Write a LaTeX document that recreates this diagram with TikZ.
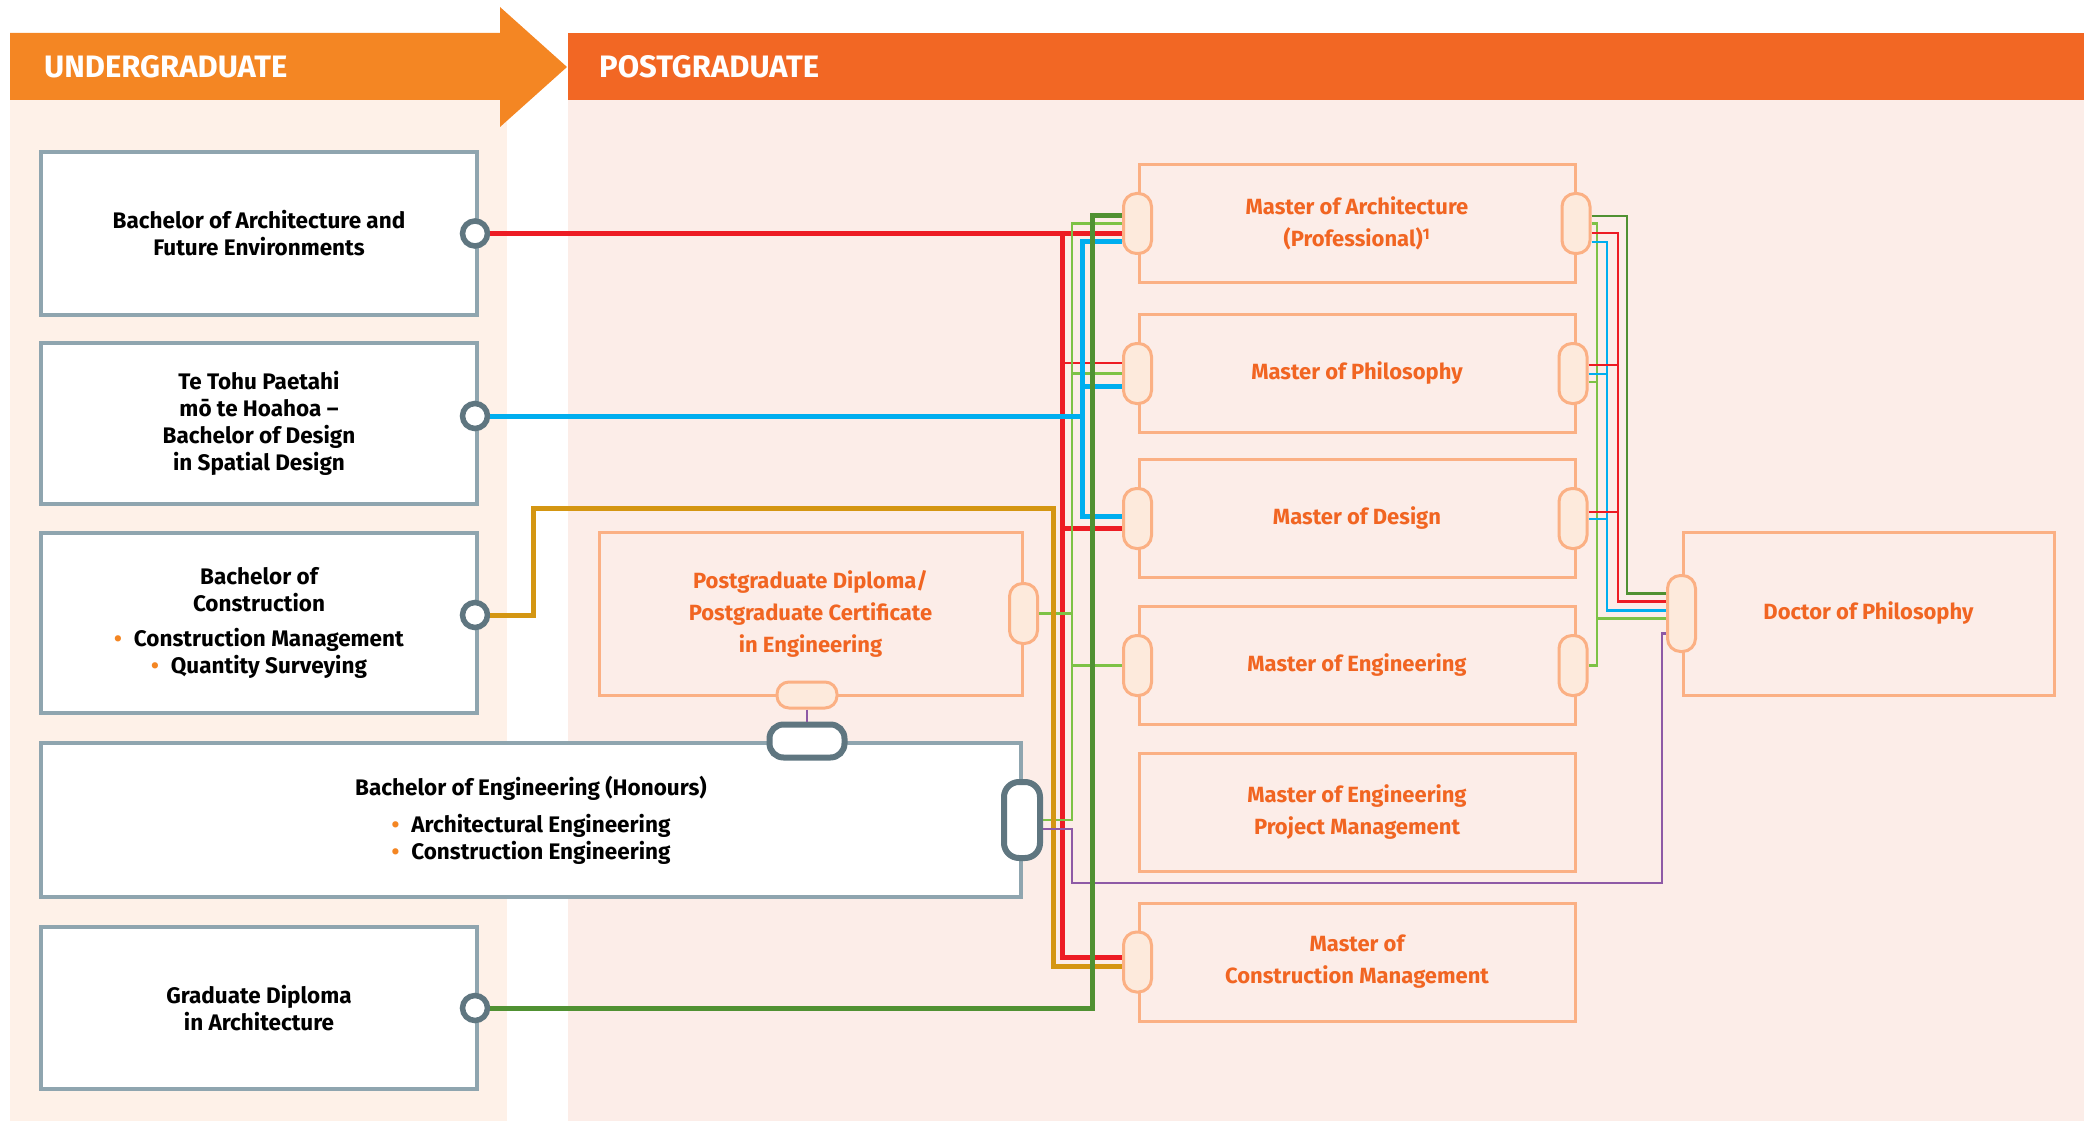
\documentclass[tikz,border=0pt]{standalone}
\usepackage{fontspec}
\setmainfont{Fira Sans}
\usetikzlibrary{positioning}

\definecolor{ugorange}{RGB}{244,134,35}
\definecolor{pgorange}{RGB}{242,103,36}
\definecolor{ugbg}{RGB}{254,241,232}
\definecolor{pgbg}{RGB}{252,237,232}
\definecolor{ugline}{RGB}{143,165,175}
\definecolor{portline}{RGB}{95,118,128}
\definecolor{pgline}{RGB}{251,176,132}
\definecolor{pillfill}{RGB}{253,234,220}
\definecolor{pgtext}{RGB}{241,101,34}
\definecolor{lnred}{RGB}{237,28,36}
\definecolor{lnblue}{RGB}{0,174,239}
\definecolor{lngold}{RGB}{212,150,18}
\definecolor{lndkgreen}{RGB}{80,145,50}
\definecolor{lnltgreen}{RGB}{125,194,70}
\definecolor{lnpurple}{RGB}{142,90,166}

\newcommand\ugfont{\bfseries\fontsize{22.5}{27}\selectfont}
\newcommand\pgtfont{\bfseries\fontsize{22}{32}\selectfont}
\newcommand\ubullet{\textcolor{ugorange}{\textbullet}\hspace{12pt}}

\tikzset{
  hdr/.style={anchor=west, text=white, font=\bfseries\fontsize{31}{34}\selectfont, inner sep=0},
  ugbox/.style={draw=ugline, line width=4, fill=white, minimum width=436, align=center, font=\ugfont},
  pgbox/.style={draw=pgline, line width=3, minimum width=436, minimum height=118, align=center, text=pgtext, font=\pgtfont},
  pill/.style={draw=pgline, line width=3, fill=pillfill, minimum width=28, minimum height=60, rounded corners=13, inner sep=0},
  bepill/.style={draw=portline, line width=6, fill=white, inner sep=0},
  port/.style={circle, draw=portline, line width=5.5, fill=white, minimum size=25, inner sep=0},
  rdthick/.style={draw=lnred, line width=5},
  rdthin/.style={draw=lnred, line width=2.5},
  buthick/.style={draw=lnblue, line width=5},
  buthin/.style={draw=lnblue, line width=2.5},
  gdthick/.style={draw=lngold, line width=5},
  dgthick/.style={draw=lndkgreen, line width=5},
  dgthin/.style={draw=lndkgreen, line width=2.5},
  lgthin/.style={draw=lnltgreen, line width=2.5},
  puthin/.style={draw=lnpurple, line width=2.5}
}

\begin{document}
\begin{tikzpicture}[x=1pt, y=-1pt]
\useasboundingbox (0,0) rectangle (2091,1123);

% backgrounds and headers
\fill[ugbg] (10,100) rectangle (507,1121);
\fill[pgbg] (568,100) rectangle (2084,1121);
\fill[ugorange] (10,33) -- (500,33) -- (500,7) -- (567,67) -- (500,127) -- (500,100) -- (10,100) -- cycle;
\fill[pgorange] (568,33) rectangle (2084,100);
\node[hdr] (ughead) at (44,67) {UNDERGRADUATE};
\node[hdr] (pghead) at (599,67) {POSTGRADUATE};

% undergraduate
\node[ugbox, minimum height=163] (bafe) at (259,233.5) {Bachelor of Architecture and\\Future Environments};
\node[ugbox, minimum height=161] (tohu) at (259,423.5) {Te Tohu Paetahi\\mō te Hoahoa –\\Bachelor of Design\\in Spatial Design};
\node[ugbox, minimum height=180] (con) at (259,623) {Bachelor of\\Construction\\[8pt]\ubullet Construction Management\\\ubullet Quantity Surveying};
\node[ugbox, minimum width=980, minimum height=154] (be) at (531,820) {Bachelor of Engineering (Honours)\\[10pt]\ubullet Architectural Engineering\\\ubullet Construction Engineering};
\node[ugbox, minimum height=162] (gdip) at (259,1008) {Graduate Diploma\\in Architecture};

% postgraduate
\node[pgbox, minimum width=423, minimum height=163] (pgd) at (810.5,613.5) {Postgraduate Diploma/\\Postgraduate Certificate\\in Engineering};
\node[pgbox] (march) at (1357,223.5) {Master of Architecture\\(Professional)\textsuperscript{1}};
\node[pgbox] (mphil) at (1357,373.5) {Master of Philosophy};
\node[pgbox] (mdes) at (1357,518.5) {Master of Design};
\node[pgbox] (meng) at (1357,665.5) {Master of Engineering};
\node[pgbox] (mepm) at (1357,812) {Master of Engineering\\Project Management};
\node[pgbox] (mcm) at (1357,962) {Master of\\Construction Management};
\node[pgbox, minimum width=371, minimum height=163] (phd) at (1868.5,613.5) {Doctor of Philosophy};

% ports
\node[port] (bafeP) at (475,233.5) {};
\node[port] (tohuP) at (475,416) {};
\node[port] (conP) at (475,615) {};
\node[port] (gdipP) at (475,1008) {};
\node[bepill, minimum width=36, minimum height=76, rounded corners=15] (beR) at (1022,820) {};
\node[bepill, minimum width=75, minimum height=33, rounded corners=14] (beT) at (807,741) {};
\node[pill] (marchL) at (march.west) {};
\node[pill] (marchR) at (1576,223.5) {};
\node[pill] (mphilL) at (mphil.west) {};
\node[pill] (mphilR) at (1573,373.5) {};
\node[pill] (mdesL) at (mdes.west) {};
\node[pill] (mdesR) at (1573,518.5) {};
\node[pill] (mengL) at (meng.west) {};
\node[pill] (mengR) at (1573,665.5) {};
\node[pill] (mcmL) at (mcm.west) {};
\node[pill] (pgdR) at (pgd.east) {};
\node[pill, minimum width=60, minimum height=26, rounded corners=12] (pgdB) at (807,695) {};
\node[pill, minimum height=76] (phdL) at (phd.west) {};

% trunks and levels
\coordinate (gdx) at (1053,508);
\coordinate (gbend) at (533,508);
\coordinate (rdx) at (1062,0);
\coordinate (lgx) at (1072,0);
\coordinate (bux) at (1082,0);
\coordinate (dgx) at (1092,0);
\coordinate (lgr) at (1597,0);
\coordinate (bur) at (1607,0);
\coordinate (rdr) at (1618,0);
\coordinate (dgr) at (1627,0);
\coordinate (pubot) at (1072,883);
\coordinate (puturn) at (1662,883);
\coordinate (phdDg) at ([yshift=20]phdL.west);
\coordinate (phdRd) at ([yshift=12]phdL.west);
\coordinate (phdBu) at ([yshift=3]phdL.west);
\coordinate (phdLg) at ([yshift=-5]phdL.west);
\coordinate (dglv) at ([yshift=7.5]marchL.west);
\coordinate (bumarch) at ([yshift=-18.5]marchL.west);
\coordinate (bumdes) at ([yshift=2.5]mdesL.west);

% left side
\draw[rdthick] (bafeP.east) -- (marchL.west |- bafeP);
\draw[rdthin] (rdx |- bafeP) |- ([yshift=10.5]mphilL.west);
\draw[rdthick] (rdx |- bafeP) |- ([yshift=-9.5]mdesL.west);
\draw[rdthick] (rdx |- bafeP) |- ([yshift=5]mcmL.west);
\draw[lgthin] (beR.east) -| (lgx |- marchL) -- (marchL.west);
\draw[lgthin] (pgdR.east) -- (lgx |- pgdR);
\draw[lgthin] (lgx |- mphilL) -- (mphilL.west);
\draw[lgthin] (lgx |- mengL) -- (mengL.west);
\draw[buthick] (tohuP.east) -- (bux |- tohuP);
\draw[buthick] (bumarch) -| (bux |- bumdes) -- (bumdes);
\draw[buthick] ([yshift=-12.5]mphilL.west) -| (bux |- bumarch);
\draw[gdthick] (conP.east) -| (gbend) -- (gdx) |- ([yshift=-4]mcmL.west);
\draw[puthin] (pgdB.south) -- (beT.north);
\draw[puthin] ([yshift=-9]beR.east) -| (pubot) -- (puturn) |- ([yshift=-20]phdL.west);
\draw[dgthick] (gdipP.east) -| (dgx |- dglv) -- (dglv);

% right side
\draw[lgthin] (marchR.east) -| (lgr |- mengR) -- (mengR.east);
\draw[lgthin] ([yshift=-8.5]mphilR.east) -| (lgr |- marchR);
\draw[lgthin] (lgr |- phdLg) -- (phdLg);
\draw[buthin] ([yshift=-18.5]marchR.east) -| (bur |- phdBu) -- (phdBu);
\draw[buthin] ([yshift=-0.5]mphilR.east) -| (bur |- phdBu);
\draw[buthin] ([yshift=-0.5]mdesR.east) -| (bur |- phdBu);
\draw[rdthin] ([yshift=-9.5]marchR.east) -| (rdr |- phdRd) -- (phdRd);
\draw[rdthin] ([yshift=8.5]mphilR.east) -| (rdr |- phdRd);
\draw[rdthin] ([yshift=6.5]mdesR.east) -| (rdr |- phdRd);
\draw[dgthin] ([yshift=7.5]marchR.east) -| (dgr |- phdDg) -- (phdDg);
\end{tikzpicture}
\end{document}
